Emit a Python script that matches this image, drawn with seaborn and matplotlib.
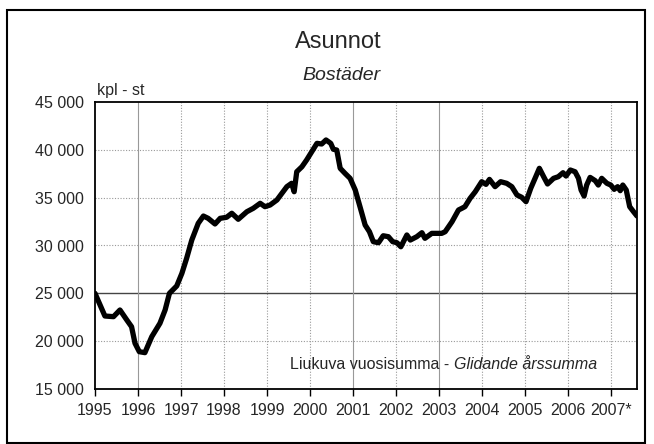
import numpy as np
import pandas as pd
import seaborn as sns
import matplotlib.pyplot as plt
from matplotlib.ticker import FuncFormatter
from matplotlib.patches import Rectangle

# rolling annual sum (decimal year, dwellings)
years = [1995.00, 1995.23, 1995.43, 1995.58, 1995.74, 1995.85, 1995.93, 1996.03,
         1996.16, 1996.32, 1996.51, 1996.63, 1996.73, 1996.90, 1997.02, 1997.13,
         1997.25, 1997.40, 1997.52, 1997.63, 1997.79, 1997.91, 1998.06, 1998.18,
         1998.33, 1998.53, 1998.68, 1998.84, 1998.95, 1999.07, 1999.23, 1999.46,
         1999.57, 1999.63, 1999.69, 1999.81, 1999.92, 2000.04, 2000.16, 2000.27,
         2000.37, 2000.48, 2000.54, 2000.62, 2000.70, 2000.81, 2000.93, 2001.05,
         2001.16, 2001.28, 2001.38, 2001.47, 2001.59, 2001.70, 2001.82, 2001.92,
         2002.02, 2002.11, 2002.25, 2002.33, 2002.48, 2002.60, 2002.67, 2002.83,
         2003.06, 2003.14, 2003.30, 2003.45, 2003.53, 2003.60, 2003.72, 2003.84,
         2003.99, 2004.09, 2004.17, 2004.30, 2004.43, 2004.57, 2004.69, 2004.81,
         2004.92, 2005.02, 2005.13, 2005.23, 2005.33, 2005.43, 2005.52, 2005.66,
         2005.77, 2005.88, 2005.95, 2006.05, 2006.16, 2006.24, 2006.30, 2006.37,
         2006.43, 2006.51, 2006.63, 2006.70, 2006.78, 2006.90, 2006.99, 2007.07,
         2007.15, 2007.21, 2007.27, 2007.35, 2007.43, 2007.52, 2007.60]
dwellings = [25000, 22630, 22560, 23260, 22210, 21510, 19780, 18900,
             18800, 20470, 21870, 23260, 25000, 25770, 27090, 28660,
             30570, 32320, 33080, 32840, 32250, 32840, 32950, 33370,
             32740, 33530, 33890, 34410, 34060, 34230, 34760, 36150,
             36500, 35620, 37710, 38230, 38940, 39810, 40680, 40610,
             41030, 40680, 40060, 39980, 38070, 37550, 37020, 35800,
             34060, 32140, 31440, 30400, 30290, 31020, 30920, 30400,
             30290, 29870, 31100, 30570, 30920, 31340, 30750, 31270,
             31270, 31440, 32490, 33710, 33890, 34060, 34930, 35620,
             36670, 36390, 36910, 36150, 36670, 36500, 36150, 35280,
             35040, 34580, 35980, 37020, 38070, 37190, 36430, 37020,
             37190, 37610, 37260, 37890, 37710, 37020, 35800, 35170,
             36320, 37120, 36770, 36320, 37020, 36500, 36320, 35870,
             36150, 35730, 36320, 35800, 34060, 33530, 33080]

tick_years = list(range(1995, 2008))
tick_labels = [str(y) for y in range(1995, 2007)] + ["2007*"]

df = pd.DataFrame({"year": years, "kpl": dwellings})

sns.set_style("white")
plt.rcParams["font.family"] = ["Liberation Sans", "DejaVu Sans"]

fig = plt.figure(figsize=(6.54, 4.44), dpi=100)
ax = fig.add_axes([95 / 654, 55 / 444, 542 / 654, 287 / 444])

# grid first so the line sits on top
for y in range(20000, 45000, 5000):
    if y == 25000:
        ax.axhline(y, color="#444444", lw=1.0, zorder=1)
    else:
        ax.axhline(y, color="#999999", lw=0.8, ls=(0, (1, 1.5)), zorder=1)
for x in tick_years[1:]:
    if x in (1996, 2001, 2003):
        ax.axvline(x, color="#999999", lw=0.8, zorder=1)
    else:
        ax.axvline(x, color="#999999", lw=0.8, ls=(0, (1, 1.5)), zorder=1)

sns.lineplot(data=df, x="year", y="kpl", ax=ax, color="black", lw=3.8,
             zorder=3)
ax.lines[-1].set_solid_joinstyle("round")
ax.lines[-1].set_solid_capstyle("round")

ax.set_xlim(1995, 2007.6)
ax.set_ylim(15000, 45000)
ax.set_xticks(tick_years)
ax.set_xticklabels(tick_labels)
ax.set_yticks(range(15000, 45001, 5000))
ax.yaxis.set_major_formatter(FuncFormatter(lambda v, p: f"{v:,.0f}".replace(",", " ")))
ax.set_xlabel("")
ax.set_ylabel("")
ax.tick_params(axis="x", length=5, width=1, direction="out", pad=5,
               labelsize=11.5, bottom=True, color="black")
ax.tick_params(axis="y", length=0, pad=8, labelsize=11.5)
for s in ax.spines.values():
    s.set_color("black")
    s.set_linewidth(1.3)
    s.set_visible(True)

t1 = ax.text(0.36, 0.087, "Liukuva vuosisumma - ", transform=ax.transAxes,
             ha="left", va="center", fontsize=11.5, zorder=4)
ax.annotate("Glidande årssumma", xy=(1, 0.5), xycoords=t1, ha="left",
            va="center", fontsize=11.5, style="italic", zorder=4)

fig.text(338 / 654, 1 - 48.3 / 444, "Asunnot", ha="center", va="baseline",
         fontsize=17)
fig.text(341 / 654, 1 - 80.5 / 444, "Bostäder", ha="center", va="baseline",
         fontsize=14, style="italic")
fig.text(97 / 654, 1 - 95 / 444, "kpl - st", ha="left", va="baseline",
         fontsize=11.5)

fig.patches.append(Rectangle((7 / 654, 1.5 / 444), 638 / 654, 432 / 444,
                             transform=fig.transFigure, fill=False,
                             edgecolor="black", lw=1.5))

fig.savefig("out.png", dpi=100)
